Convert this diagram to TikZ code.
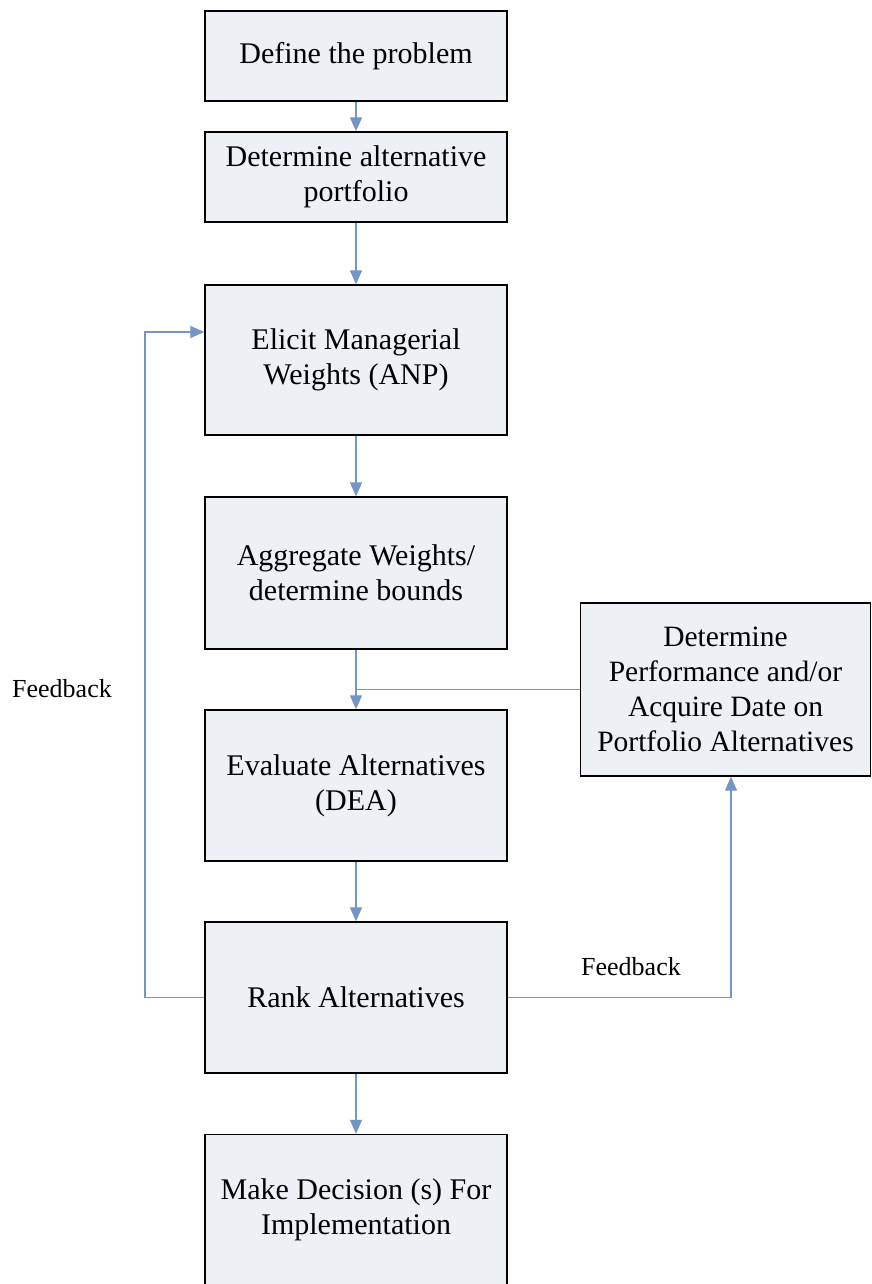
\documentclass[tikz,border=0pt]{standalone}
\usepackage{fontspec}
\setmainfont{Liberation Serif}
\usetikzlibrary{arrows.meta,calc}
\definecolor{boxfill}{HTML}{EDF0F5}
\definecolor{linkblue}{HTML}{7396C6}
\tikzset{
  stepbox/.style={draw=black, line width=1.4pt, fill=boxfill, inner sep=0pt,
    minimum width=302pt, align=center, font=\fontsize{30}{35}\selectfont},
  arr/.style={draw=linkblue, line width=1.3pt, -{Triangle[width=12pt,length=14pt]}},
  ln/.style={draw=linkblue, line width=1.3pt},
  lbl/.style={font=\fontsize{26}{30}\selectfont, inner sep=0pt}
}
\begin{document}
\begin{tikzpicture}[x=1pt,y=-1pt]
\useasboundingbox (0,0) rectangle (872,1284);
\begin{scope}
\clip (0,0) rectangle (872,1284);
\node[stepbox, minimum height=90pt] (define) at (356,56) {Define the problem};
\node[stepbox, minimum height=90pt] (altp) at (356,177) {Determine alternative\\portfolio};
\node[stepbox, minimum height=150pt] (elicit) at (356,360) {Elicit Managerial\\Weights (ANP)};
\node[stepbox, minimum height=152pt] (agg) at (356,573) {Aggregate Weights/\\determine bounds};
\node[stepbox, minimum height=151pt] (eval) at (356,785.5) {Evaluate Alternatives\\(DEA)};
\node[stepbox, minimum height=151pt] (rank) at (356,997.5) {Rank Alternatives};
\node[stepbox, minimum height=151pt] (make) at (356,1210) {Make Decision (s) For\\Implementation};
\node[stepbox, minimum width=290pt, minimum height=173pt, font=\fontsize{29.5}{35}\selectfont] (perf) at (725.5,689.5) {Determine\\Performance and/or\\Acquire Date on\\Portfolio Alternatives};
\end{scope}

\draw[arr] (define) -- (altp);
\draw[arr] (altp) -- (elicit);
\draw[arr] (elicit) -- (agg);
\draw[arr] (agg) -- (eval);
\draw[arr] (eval) -- (rank);
\draw[arr] (rank) -- (make);
\draw[ln] (perf.west) -- (agg.south |- perf.west);

\coordinate (fbL) at (145,332);
\draw[arr] (rank.west) -| (fbL) -- (fbL -| elicit.west);
\coordinate (fbR) at (731,997.5);
\draw[arr] (rank.east) -- (fbR) -- (fbR |- perf.south);

\node[lbl] (fb1) at (62,689) {Feedback};
\node[lbl] (fb2) at (631,967) {Feedback};
\end{tikzpicture}
\end{document}
